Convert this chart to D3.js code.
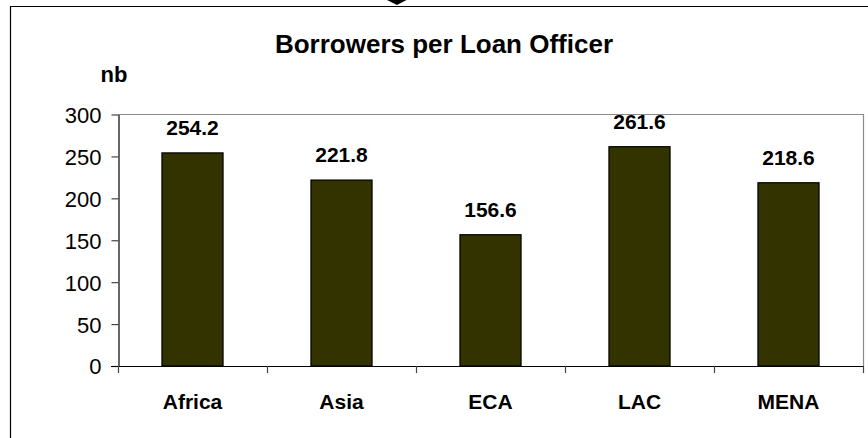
<!DOCTYPE html>
<html>
<head>
<meta charset="utf-8">
<script src="https://cdn.jsdelivr.net/npm/d3@7"></script>
<style>
  html, body { margin: 0; padding: 0; background: #fff; }
  svg { display: block; font-family: "Liberation Sans", Arial, sans-serif; }
</style>
</head>
<body>
<svg id="chart" width="868" height="438"></svg>
<script>
// Borrowers per loan officer, by region
const regions = ["Africa", "Asia", "ECA", "LAC", "MENA"];
const borrowers = [254.2, 221.8, 156.6, 261.6, 218.6];
const yTicks = [0, 50, 100, 150, 200, 250, 300];
const titleText = "Borrowers per Loan Officer";
const unitText = "nb";

const svg = d3.select("#chart");
const W = 868, H = 438;
const plot = { left: 118, right: 863, top: 114.5, bottom: 366 };

// outer frame (left and top edges) and the small marker above it
svg.append("path")
  .attr("d", `M10.5,${H} V6.5 H${W}`)
  .attr("fill", "none").attr("stroke", "#000").attr("stroke-width", 1.2);
svg.append("path")
  .attr("d", "M387,0 L406.5,0 L397,5 Z")
  .attr("fill", "#000");

const x = d3.scaleBand().domain(regions).range([plot.left, plot.right]).paddingInner(0.59).paddingOuter(0.295);
const band = d3.scaleBand().domain(regions).range([plot.left, plot.right]);
const y = d3.scaleLinear().domain([0, 300]).range([plot.bottom, plot.top]);

// plot-area border (top and right)
svg.append("path")
  .attr("d", `M${plot.left},${plot.top} H${plot.right + 0.5} V${plot.bottom}`)
  .attr("fill", "none").attr("stroke", "#8c8c8c").attr("stroke-width", 1.2);

// bars
svg.append("g").selectAll("rect").data(regions).join("rect")
  .attr("x", d => x(d))
  .attr("y", (d, i) => y(borrowers[i]))
  .attr("width", x.bandwidth())
  .attr("height", (d, i) => y(0) - y(borrowers[i]))
  .attr("fill", "#333300")
  .attr("stroke", "#000")
  .attr("stroke-width", 1.2);

// value labels
svg.append("g").selectAll("text").data(regions).join("text")
  .attr("x", d => x(d) + x.bandwidth() / 2)
  .attr("y", (d, i) => y(borrowers[i]) - 18)
  .attr("text-anchor", "middle")
  .attr("font-size", 21).attr("font-weight", "bold")
  .text((d, i) => borrowers[i].toFixed(1));

// y axis
const yAxis = svg.append("g")
  .attr("transform", `translate(${plot.left + 0.5},0)`)
  .call(d3.axisLeft(y).tickValues(yTicks).tickSize(7).tickPadding(10).tickSizeOuter(0));
yAxis.select(".domain").attr("stroke", "#000").attr("stroke-width", 1.2);
yAxis.selectAll(".tick line").attr("stroke", "#444").attr("stroke-width", 1.2);
yAxis.selectAll(".tick text")
  .attr("font-family", "'Liberation Sans', Arial, sans-serif")
  .attr("font-size", 22).attr("fill", "#000").attr("dy", "0.36em");

// x axis with ticks at category boundaries
const xAxisG = svg.append("g");
xAxisG.append("line")
  .attr("x1", plot.left - 7).attr("x2", plot.right)
  .attr("y1", plot.bottom + 0.5).attr("y2", plot.bottom + 0.5)
  .attr("stroke", "#000").attr("stroke-width", 1.2);
const bounds = regions.map(d => band(d)).concat([band(regions[regions.length - 1]) + band.bandwidth()]);
xAxisG.selectAll("line.btick").data(bounds).join("line")
  .attr("class", "btick")
  .attr("x1", d => d + 0.5).attr("x2", d => d + 0.5)
  .attr("y1", plot.bottom).attr("y2", plot.bottom + 7)
  .attr("stroke", "#444").attr("stroke-width", 1.2);
xAxisG.selectAll("text").data(regions).join("text")
  .attr("x", d => band(d) + band.bandwidth() / 2)
  .attr("y", 409)
  .attr("text-anchor", "middle")
  .attr("font-size", 21).attr("font-weight", "bold")
  .text(d => d);

// title and unit label
svg.append("text")
  .attr("x", 444).attr("y", 53)
  .attr("text-anchor", "middle")
  .attr("font-size", 26).attr("font-weight", "bold")
  .text(titleText);
svg.append("text")
  .attr("x", 114).attr("y", 82)
  .attr("text-anchor", "middle")
  .attr("font-size", 22).attr("font-weight", "bold")
  .text(unitText);
</script>
</body>
</html>
